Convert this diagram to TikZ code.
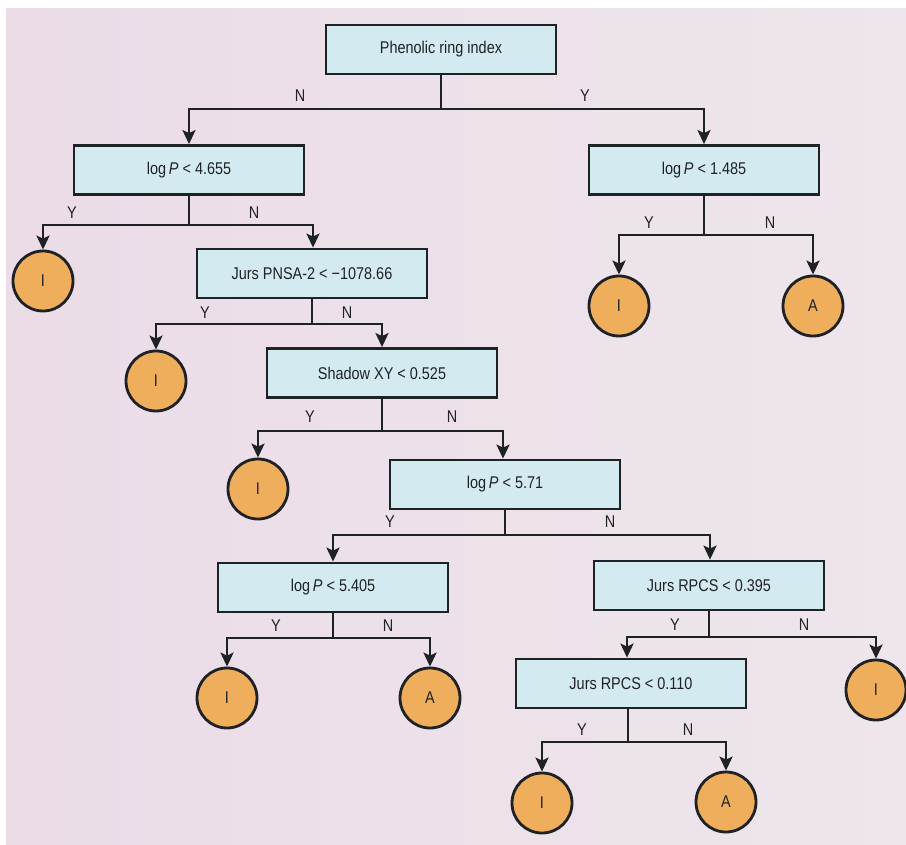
\documentclass[tikz,border=0pt]{standalone}
\usepackage{fontspec}
\setmainfont{Liberation Sans}[FakeStretch=0.85]
\usetikzlibrary{arrows.meta}
\definecolor{bgpink}{HTML}{EBDCE8}
\definecolor{bgpale}{HTML}{EEE6EC}
\definecolor{boxblue}{HTML}{D3EAF0}
\definecolor{circorange}{HTML}{EFAE5C}
\definecolor{ink}{HTML}{1F2224}
\begin{document}
\begin{tikzpicture}[x=1pt,y=-1pt,
  every node/.style={font=\fontsize{17}{20}\selectfont, text=ink},
  testbox/.style={draw=ink, line width=2.8pt, fill=boxblue, minimum width=230pt, minimum height=49pt, inner sep=0pt},
  leaf/.style={draw=ink, line width=2.8pt, fill=circorange, circle, minimum size=60pt, inner sep=0pt},
  conn/.style={draw=ink, line width=2.6pt, -{Stealth[length=14pt,width=13pt,inset=3pt]}},
  lbl/.style={inner sep=0pt}
]
\useasboundingbox (0,0) rectangle (906,845);
\fill[white] (0,0) rectangle (906,845);
\shade[left color=bgpink, right color=bgpale] (6,9) rectangle (906,845);

% boxes
\node[testbox] (root) at (441,49.5) {Phenolic ring index};
\node[testbox] (b2) at (189,170) {log\,\textit{P} < 4.655};
\node[testbox] (b3) at (704,170) {log\,\textit{P} < 1.485};
\node[testbox] (b4) at (312,273.5) {Jurs PNSA-2 < −1078.66};
\node[testbox] (b5) at (382,373) {Shadow XY < 0.525};
\node[testbox] (b6) at (505,484.5) {log\,\textit{P} < 5.71};
\node[testbox] (b7) at (333,587.5) {log\,\textit{P} < 5.405};
\node[testbox] (b8) at (709,585.5) {Jurs RPCS < 0.395};
\node[testbox] (b9) at (631,683.5) {Jurs RPCS < 0.110};

% leaves
\node[leaf] (l1) at (43,281) {I};
\node[leaf] (l2) at (619,306) {I};
\node[leaf] (l3) at (813,306) {A};
\node[leaf] (l4) at (156,381) {I};
\node[leaf] (l5) at (258,489) {I};
\node[leaf] (l6) at (227,698) {I};
\node[leaf] (l7) at (430,698) {A};
\node[leaf] (l8) at (876,690) {I};
\node[leaf] (l9) at (542,803) {I};
\node[leaf] (l10) at (726,802) {A};

% connectors
\coordinate (j1) at (441,109);
\coordinate (j2) at (189,225);
\coordinate (j3) at (704,235);
\coordinate (j4) at (312,324);
\coordinate (j5) at (382,431);
\coordinate (j6) at (505,535);
\coordinate (j7) at (333,638);
\coordinate (j8) at (709,637);
\coordinate (j9) at (628,742);

\draw[conn] (root.south) -- (j1) -| (b2.north);
\draw[conn] (root.south) -- (j1) -| (b3.north);
\draw[conn] (b2.south) -- (j2) -| (l1.north);
\draw[conn] (b2.south) -- (j2) -| ([xshift=124pt]b2.south |- b4.north);
\draw[conn] (b3.south) -- (j3) -| (l2.north);
\draw[conn] (b3.south) -- (j3) -| (l3.north);
\draw[conn] (b4.south) -- (j4) -| (l4.north);
\draw[conn] (b4.south) -- (j4) -| (b5.north);
\draw[conn] (b5.south) -- (j5) -| ([xshift=-2pt]b6.north);
\draw[conn] (b5.south) -- (j5) -| (l5.north);
\draw[conn] (b6.south) -- (j6) -| (b7.north);
\draw[conn] (b6.south) -- (j6) -| ([xshift=1pt]b8.north);
\draw[conn] (b7.south) -- (j7) -| (l6.north);
\draw[conn] (b7.south) -- (j7) -| (l7.north);
\draw[conn] (b8.south) -- (j8) -| ([xshift=-4pt]b9.north);
\draw[conn] (b8.south) -- (j8) -| (l8.north);
\draw[conn] ([xshift=-3pt]b9.south) -- (j9) -| (l9.north);
\draw[conn] ([xshift=-3pt]b9.south) -- (j9) -| (l10.north);

% labels
\node[lbl] (t1) at (300,96) {N};
\node[lbl] (t2) at (585,96) {Y};
\node[lbl] (t3) at (72,213) {Y};
\node[lbl] (t4) at (254,213) {N};
\node[lbl] (t5) at (649,223) {Y};
\node[lbl] (t6) at (770,223) {N};
\node[lbl] (t7) at (205,313) {Y};
\node[lbl] (t8) at (347,313) {N};
\node[lbl] (t9) at (310,417) {Y};
\node[lbl] (t10) at (452,417) {N};
\node[lbl] (t11) at (390,522) {Y};
\node[lbl] (t12) at (610,522) {N};
\node[lbl] (t13) at (276,626) {Y};
\node[lbl] (t14) at (388,626) {N};
\node[lbl] (t15) at (675,625) {Y};
\node[lbl] (t16) at (804,625) {N};
\node[lbl] (t17) at (582,730) {Y};
\node[lbl] (t18) at (688,730) {N};
\end{tikzpicture}
\end{document}
